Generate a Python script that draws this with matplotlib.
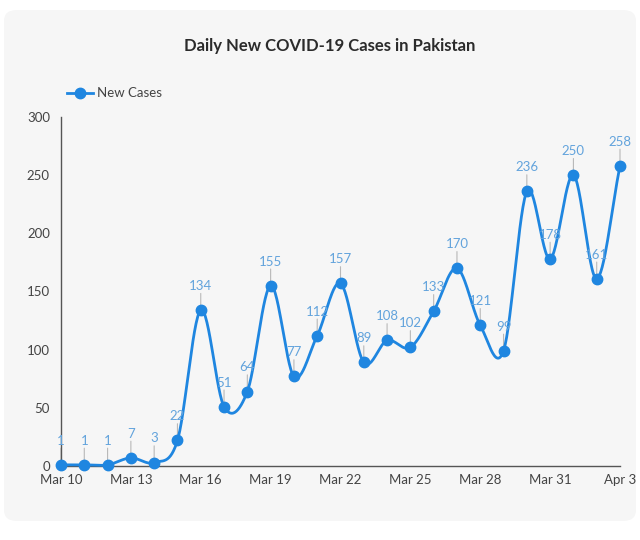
import numpy as np
import matplotlib
matplotlib.use("Agg")
import matplotlib.pyplot as plt
from matplotlib.patches import FancyBboxPatch

dates = ["Mar 10", "Mar 11", "Mar 12", "Mar 13", "Mar 14", "Mar 15", "Mar 16", "Mar 17",
         "Mar 18", "Mar 19", "Mar 20", "Mar 21", "Mar 22", "Mar 23", "Mar 24", "Mar 25",
         "Mar 26", "Mar 27", "Mar 28", "Mar 29", "Mar 30", "Mar 31", "Apr 1", "Apr 2", "Apr 3"]
new_cases = [1, 1, 1, 7, 3, 22, 134, 51, 64, 155, 77, 112, 157, 89, 108, 102,
             133, 170, 121, 99, 236, 178, 250, 161, 258]
tick_labels = ["Mar 10", "Mar 13", "Mar 16", "Mar 19", "Mar 22", "Mar 25", "Mar 28", "Mar 31", "Apr 3"]
y_ticks = [0, 50, 100, 150, 200, 250, 300]

plt.rcParams['font.family'] = ['Lato', 'DejaVu Sans']

LINE = "#1f86e0"
LABEL = "#62a3dc"

fig = plt.figure(figsize=(6.4, 5.4), dpi=100)
fig.patch.set_facecolor("white")
panel = FancyBboxPatch((4 / 640, 19 / 540), 632 / 640, 511 / 540,
                       boxstyle="round,pad=0,rounding_size=0.02",
                       transform=fig.transFigure, facecolor="#f6f6f6",
                       edgecolor="none", zorder=-10)
fig.patches.append(panel)

ax = fig.add_axes([61 / 640, 1 - 466 / 540, 559 / 640, 349 / 540])
ax.set_facecolor("none")
ax.set_zorder(1)

x = np.arange(len(new_cases), dtype=float)
y = np.array(new_cases, dtype=float)

# Catmull-Rom smoothing through the data points
def catmull_rom(xs, ys, n=30):
    px = np.concatenate([[2 * xs[0] - xs[1]], xs, [2 * xs[-1] - xs[-2]]])
    py = np.concatenate([[2 * ys[0] - ys[1]], ys, [2 * ys[-1] - ys[-2]]])
    outx, outy = [], []
    t = np.linspace(0, 1, n, endpoint=False)
    for i in range(1, len(px) - 2):
        for arr, out in ((px, outx), (py, outy)):
            p0, p1, p2, p3 = arr[i - 1], arr[i], arr[i + 1], arr[i + 2]
            out.extend(0.5 * ((2 * p1) + (-p0 + p2) * t +
                              (2 * p0 - 5 * p1 + 4 * p2 - p3) * t ** 2 +
                              (-p0 + 3 * p1 - 3 * p2 + p3) * t ** 3))
    outx.append(xs[-1]); outy.append(ys[-1])
    return np.array(outx), np.array(outy)

sx, sy = catmull_rom(x, y)
ax.plot(sx, sy, color=LINE, lw=2.0, zorder=3, solid_capstyle="round", clip_on=False)
ax.plot(x, y, "o", color=LINE, ms=7.5, zorder=4, clip_on=False)

for xi, yi in zip(x, y):
    ax.annotate("", xy=(xi, yi), xytext=(0, 12), textcoords="offset points",
                xycoords="data",
                arrowprops=dict(arrowstyle="-", color="#b8b8b8", lw=0.8,
                                shrinkA=0, shrinkB=3), zorder=2)
    ax.annotate(f"{int(yi)}", xy=(xi, yi), xytext=(0, 13), textcoords="offset points",
                ha="center", va="bottom", fontsize=9.5, color=LABEL, zorder=5)

ax.set_xlim(0, len(new_cases) - 1)
ax.set_ylim(0, 300)
ax.set_xticks([dates.index(t) for t in tick_labels])
ax.set_xticklabels(tick_labels)
ax.set_yticks(y_ticks)
ax.tick_params(length=0, labelsize=9.5, colors="#444444")
ax.tick_params(axis="x", pad=6)
ax.tick_params(axis="y", pad=8)
for s in ["top", "right"]:
    ax.spines[s].set_visible(False)
for s in ["left", "bottom"]:
    ax.spines[s].set_color("#555555")
    ax.spines[s].set_linewidth(1.0)

fig.text(330 / 640, 1 - 46 / 540, "Daily New COVID-19 Cases in Pakistan",
         ha="center", va="center", fontsize=12, fontweight="bold", color="#2b2b2b")

ax.legend([plt.Line2D([], [], color=LINE, lw=2, marker="o", ms=7.5)], ["New Cases"],
          loc="lower left", bbox_to_anchor=(55 / 640, 1 - 111 / 540),
          bbox_transform=fig.transFigure, frameon=False, fontsize=9.5,
          handlelength=2.0, handletextpad=0.3, labelcolor="#444444")

fig.savefig("out.png", dpi=100)
